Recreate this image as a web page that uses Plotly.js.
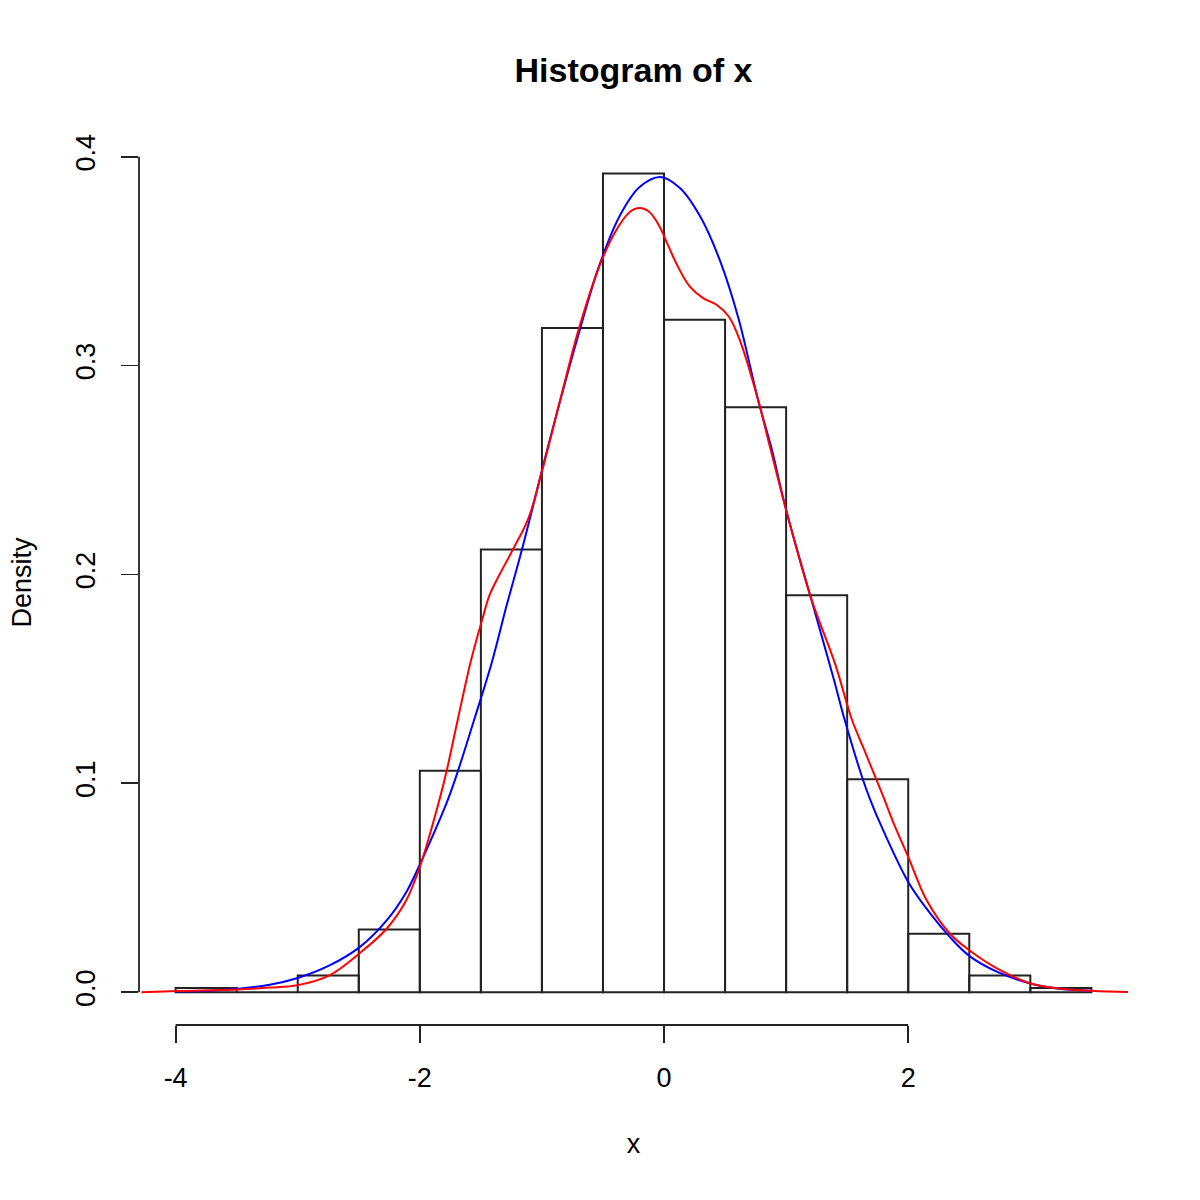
<!DOCTYPE html>
<html>
<head>
<meta charset="utf-8">
<script src="https://cdn.plot.ly/plotly-3.0.1.min.js"></script>
<style>html,body{margin:0;padding:0;background:#fff;}#chart{width:1200px;height:1200px;}</style>
</head>
<body>
<div id="chart"></div>
<script>
// Histogram breaks and densities (bin width 0.5)
const breaks = [-4, -3.5, -3, -2.5, -2, -1.5, -1, -0.5, 0, 0.5, 1, 1.5, 2, 2.5, 3, 3.5];
const density = [0.002, 0.000, 0.008, 0.030, 0.106, 0.212, 0.318, 0.392, 0.322, 0.280, 0.190, 0.102, 0.028, 0.008, 0.002];

// Blue curve (normal fit)
const blueX = [-4.0, -3.61, -3.23, -3.0, -2.74, -2.49, -2.27, -2.11, -1.99, -1.86, -1.77, -1.69, -1.56, -1.41, -1.29, -1.17, -1.06, -0.96, -0.70, -0.53, -0.36, -0.20, -0.03, 0.13, 0.30, 0.46, 0.61, 0.77, 0.88, 1.00, 1.20, 1.39, 1.48, 1.63, 1.69, 1.77, 2.00, 2.18, 2.34, 2.50, 2.73, 3.00, 3.22, 3.50];
const blueY = [0.0003, 0.0010, 0.0036, 0.0068, 0.0128, 0.0217, 0.0345, 0.0480, 0.0624, 0.0795, 0.0922, 0.1055, 0.1295, 0.1580, 0.1850, 0.2105, 0.2357, 0.2590, 0.3150, 0.3480, 0.3720, 0.3855, 0.3903, 0.3850, 0.3710, 0.3500, 0.3225, 0.2836, 0.2605, 0.2309, 0.1894, 0.1500, 0.1303, 0.1016, 0.0920, 0.0808, 0.0528, 0.0377, 0.0265, 0.0174, 0.0097, 0.0042, 0.0018, 0.0007];

// Red curve (kernel density)
const redX = [-4.28, -3.98, -3.49, -3.23, -3.00, -2.74, -2.49, -2.27, -2.11, -1.99, -1.84, -1.78, -1.69, -1.58, -1.49, -1.43, -1.36, -1.24, -1.11, -0.99, -0.85, -0.70, -0.53, -0.40, -0.28, -0.20, -0.12, -0.04, 0.03, 0.10, 0.21, 0.32, 0.43, 0.53, 0.62, 0.77, 0.87, 1.00, 1.20, 1.40, 1.54, 1.64, 1.74, 1.80, 1.88, 2.00, 2.15, 2.34, 2.50, 2.73, 3.00, 3.30, 3.82];
const redY = [0.0, 0.0006, 0.0013, 0.0022, 0.0034, 0.0081, 0.0188, 0.0305, 0.0441, 0.0617, 0.0920, 0.1060, 0.1303, 0.1590, 0.1782, 0.1900, 0.1985, 0.2117, 0.2270, 0.2516, 0.2836, 0.3171, 0.3475, 0.3640, 0.3735, 0.3754, 0.3735, 0.3670, 0.3580, 0.3490, 0.3379, 0.3323, 0.3291, 0.3235, 0.3123, 0.2836, 0.2605, 0.2309, 0.1894, 0.1574, 0.1303, 0.1160, 0.1016, 0.0930, 0.0810, 0.0648, 0.0441, 0.0281, 0.0201, 0.0113, 0.0042, 0.0014, 0.0001];

const xTicks = [-4, -2, 0, 2];
const xTickText = ["-4", "-2", "0", "2"];
const yTicks = [0, 0.1, 0.2, 0.3, 0.4];
const yTickText = ["0.0", "0.1", "0.2", "0.3", "0.4"];

const FONT = "Liberation Sans, Arial, Helvetica, sans-serif";

const mids = density.map((d, i) => (breaks[i] + breaks[i + 1]) / 2);
const widths = density.map((d, i) => breaks[i + 1] - breaks[i]);

const traces = [
  {
    type: "bar", x: mids, y: density, width: widths,
    marker: {color: "rgba(255,255,255,0)", line: {color: "#222", width: 2}},
    hoverinfo: "skip", showlegend: false
  },
  {
    type: "scatter", mode: "lines", x: blueX, y: blueY,
    line: {color: "#0000ff", width: 2, shape: "spline", smoothing: 1},
    hoverinfo: "skip", showlegend: false
  },
  {
    type: "scatter", mode: "lines", x: redX, y: redY,
    line: {color: "#ff0000", width: 2, shape: "spline", smoothing: 1},
    hoverinfo: "skip", showlegend: false
  }
];

const layout = {
  width: 1200, height: 1200,
  margin: {l: 139, r: 72, t: 140, b: 175, pad: 0},
  paper_bgcolor: "#fff", plot_bgcolor: "#fff",
  showlegend: false,
  bargap: 0,
  font: {family: FONT, color: "#000", size: 27},
  title: {
    text: "<b>Histogram of x</b>",
    font: {family: FONT, size: 34, color: "#000"},
    x: 0.5, xref: "paper", xanchor: "center",
    y: 1 - 70 / 1200, yref: "container", yanchor: "middle"
  },
  xaxis: {
    range: [-4.3, 3.8], autorange: false,
    showgrid: false, zeroline: false, showline: false,
    tickmode: "array", tickvals: xTicks, ticktext: xTickText,
    ticks: "outside", ticklen: 17, tickwidth: 1.8, tickcolor: "#222",
    tickfont: {family: FONT, size: 27, color: "#000"},
    ticklabelstandoff: 12,
    title: {text: "x", font: {family: FONT, size: 27, color: "#000"}, standoff: 41},
    automargin: false
  },
  yaxis: {
    range: [-0.0157, 0.408], autorange: false,
    showgrid: false, zeroline: false, showline: false,
    tickmode: "array", tickvals: yTicks, ticktext: yTickText,
    ticks: "outside", ticklen: 17, tickwidth: 1.8, tickcolor: "#222",
    tickangle: -90,
    tickfont: {family: FONT, size: 27, color: "#000"},
    ticklabelstandoff: 15,
    title: {text: "Density", font: {family: FONT, size: 27, color: "#000"}, standoff: 31},
    automargin: false
  },
  shapes: [
    {type: "line", xref: "x", yref: "paper", x0: xTicks[0], x1: xTicks[xTicks.length - 1], y0: 0, y1: 0,
     line: {color: "#222", width: 1.8}, layer: "above"},
    {type: "line", xref: "paper", yref: "y", x0: 0, x1: 0, y0: yTicks[0], y1: yTicks[yTicks.length - 1],
     line: {color: "#222", width: 1.8}, layer: "above"}
  ]
};

Plotly.newPlot("chart", traces, layout, {staticPlot: true, displayModeBar: false});
</script>
</body>
</html>
